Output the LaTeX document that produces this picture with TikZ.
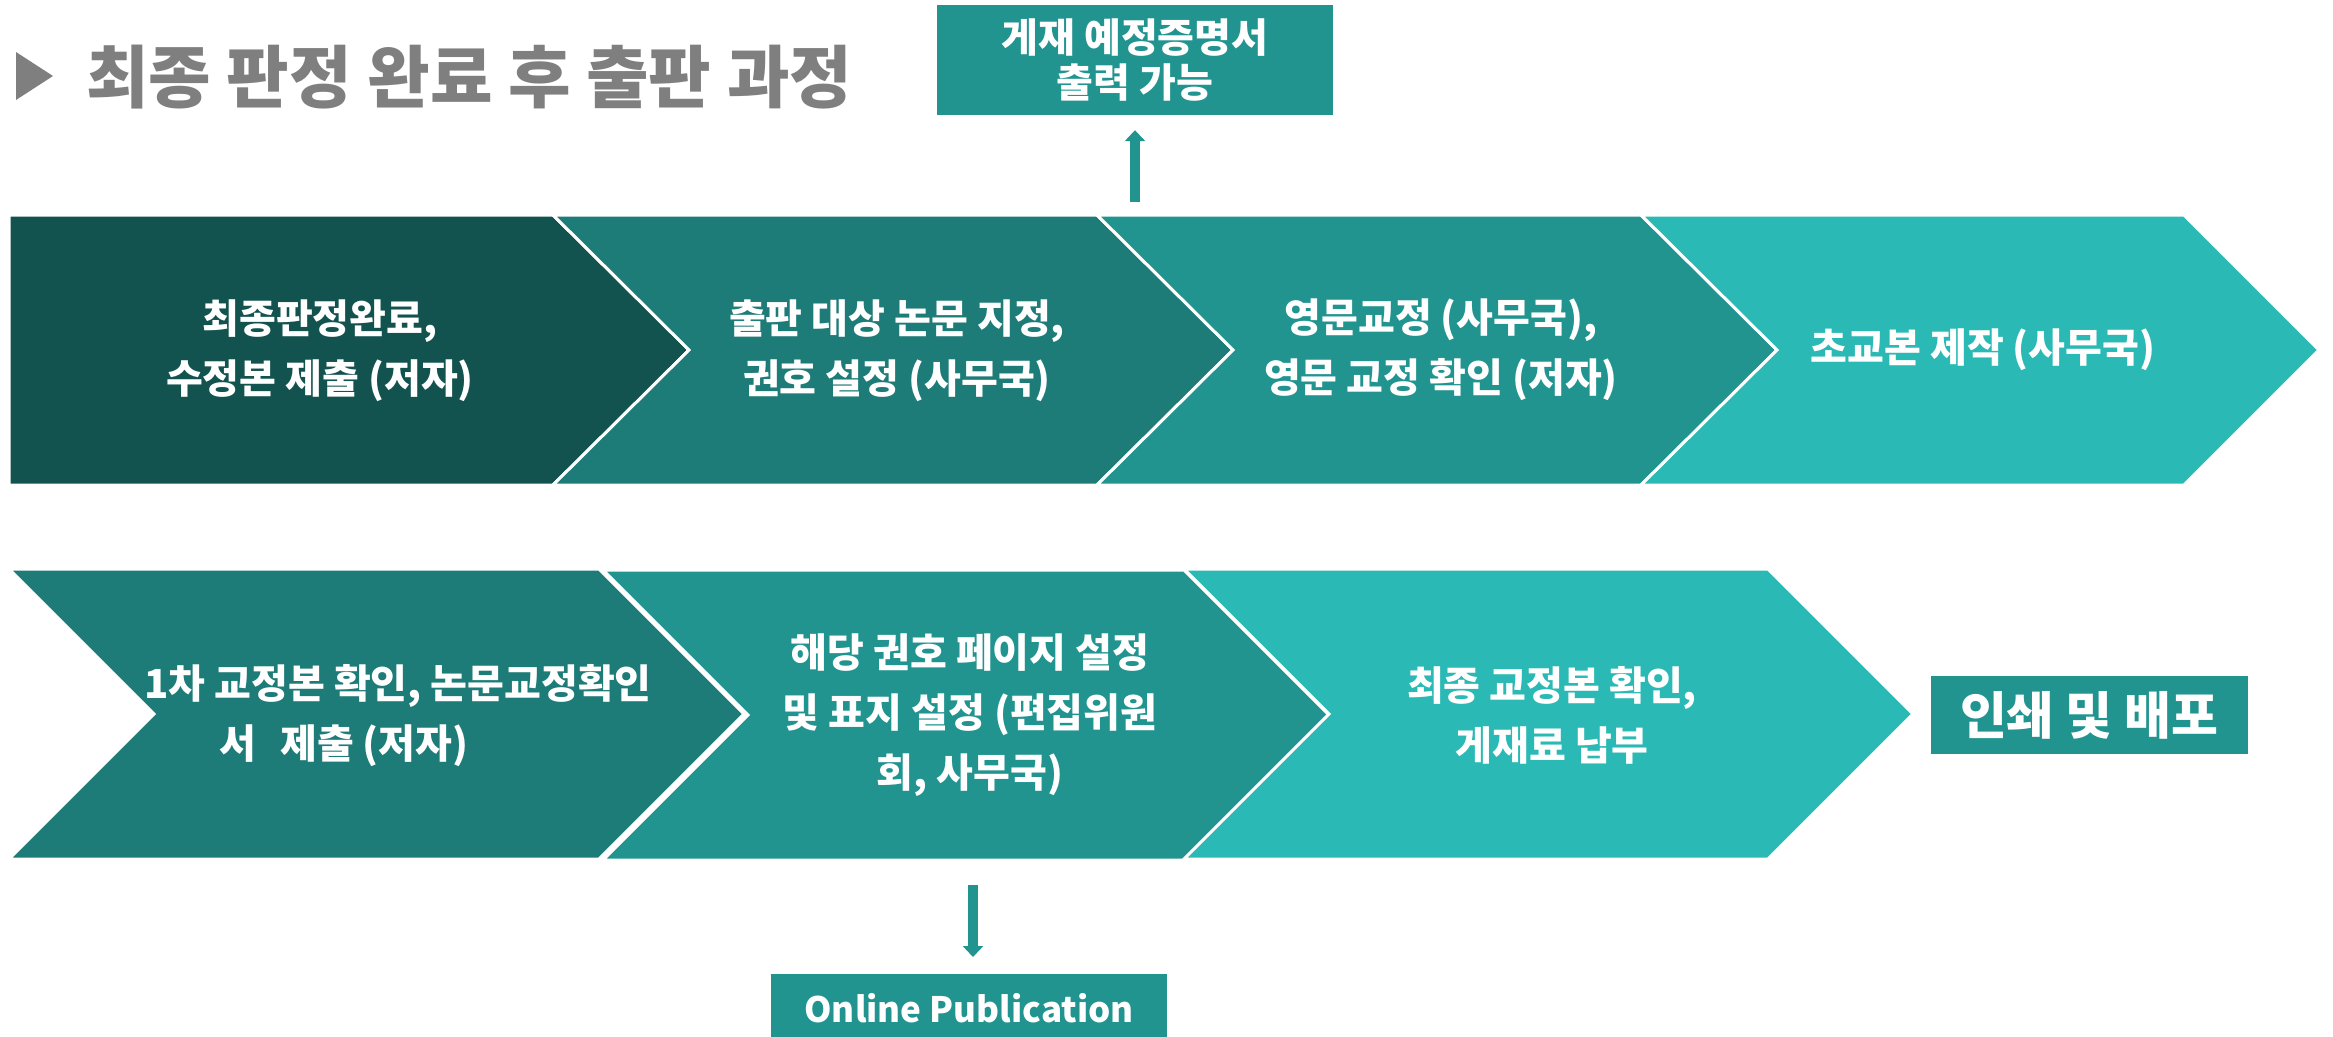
\documentclass[tikz,border=0pt]{standalone}
\usepackage{fontspec}
\setmainfont{Noto Sans CJK KR}
\usepackage{tikz}
\usetikzlibrary{arrows.meta,positioning}
\definecolor{tealDeep}{HTML}{12524F}
\definecolor{tealDark}{HTML}{1D7B78}
\definecolor{tealMid}{HTML}{219490}
\definecolor{tealLight}{HTML}{2AB9B5}
\definecolor{titleGrey}{HTML}{7F7F7F}
\tikzset{
  chevron/.style={
    draw=white,
    line width=3pt,
    line join=miter
  },
  stepText/.style={
    align=center,
    text=white,
    inner sep=0pt,
    font=\fontsize{40}{60}\selectfont\bfseries
  },
  noteBox/.style={
    rectangle,
    fill=tealMid,
    text=white,
    inner sep=0pt,
    align=center,
    font=\fontsize{40}{45}\selectfont\bfseries
  },
  blockArrow/.style={
    -{Triangle[width=20pt,length=11pt]},
    line width=9.6pt,
    draw=tealMid
  }
}

\begin{document}
\begin{tikzpicture}[x=1pt,y=-1pt]
  \useasboundingbox (0,0) rectangle (2333,1036);
  \fill[titleGrey] (16,52) -- (53,76) -- (16,100) -- cycle;
  \node[anchor=west,inner sep=0pt,text=titleGrey,font=\fontsize{68}{76}\selectfont\bfseries] (title) at (86,77) {최종 판정 완료 후 출판 과정};
  \draw[chevron,fill=tealDeep] (9,215) -- (553,215) -- (689,350) -- (553,485) -- (9,485) -- cycle;
  \draw[chevron,fill=tealDark] (553,215) -- (1097,215) -- (1233,350) -- (1097,485) -- (553,485) -- (689,350) -- cycle;
  \draw[chevron,fill=tealMid] (1097,215) -- (1641,215) -- (1777,350) -- (1641,485) -- (1097,485) -- (1233,350) -- cycle;
  \draw[chevron,fill=tealLight] (1641,215) -- (2184,215) -- (2319,350) -- (2184,485) -- (1641,485) -- (1777,350) -- cycle;
  \node[stepText] (finalDecision) at (320,351) {최종판정완료,\\수정본 제출 (저자)};
  \node[stepText] (issueAssign) at (897,351) {출판 대상 논문 지정,\\권호 설정 (사무국)};
  \node[stepText] (englishEdit) at (1441,350) {영문교정 (사무국),\\영문 교정 확인 (저자)};
  \node[stepText] (firstProof) at (1983,350) {초교본 제작 (사무국)};
  \draw[chevron,fill=tealDark] (9,569) -- (599,569) -- (744,714) -- (599,859) -- (9,859) -- (154,714) -- cycle;
  \draw[chevron,fill=tealMid] (603,570) -- (1184,570) -- (1329,715) -- (1184,860) -- (603,860) -- (748,715) -- cycle;
  \draw[chevron,fill=tealLight] (1184,569) -- (1768,569) -- (1913,714) -- (1768,859) -- (1184,859) -- (1329,714) -- cycle;
  \node[stepText] (authorCheck) at (398,716) {1차 교정본 확인, 논문교정확인\\서\hspace{0.6em}제출 (저자)\rule{108pt}{0pt}};
  \node[stepText] (pageSetup) at (970,715) {해당 권호 페이지 설정\\및 표지 설정 (편집위원\\회, 사무국)};
  \node[stepText] (feePayment) at (1552,715) {최종 교정본 확인,\\게재료 납부};
  \node[noteBox,minimum width=396pt,minimum height=110pt] (certificate) at (1135,60) {게재 예정증명서\\출력 가능};
  \node[noteBox,minimum width=317pt,minimum height=78pt,font=\fontsize{51}{58}\selectfont\bfseries] (printing) at (2089,715) {인쇄 및 배포};
  \node[noteBox,anchor=north,minimum width=396pt,minimum height=68pt,font=\fontsize{35}{42}\selectfont\bfseries] (online) at (969,974) {Online Publication};
  \coordinate (certFoot) at (1135,202);
  \coordinate (onlineTail) at (973,885);
  \draw[blockArrow,shorten >=15pt] (certFoot) -- (certificate);
  \draw[blockArrow,shorten >=17pt] (onlineTail) -- (onlineTail |- online.north);
\end{tikzpicture}
\end{document}
